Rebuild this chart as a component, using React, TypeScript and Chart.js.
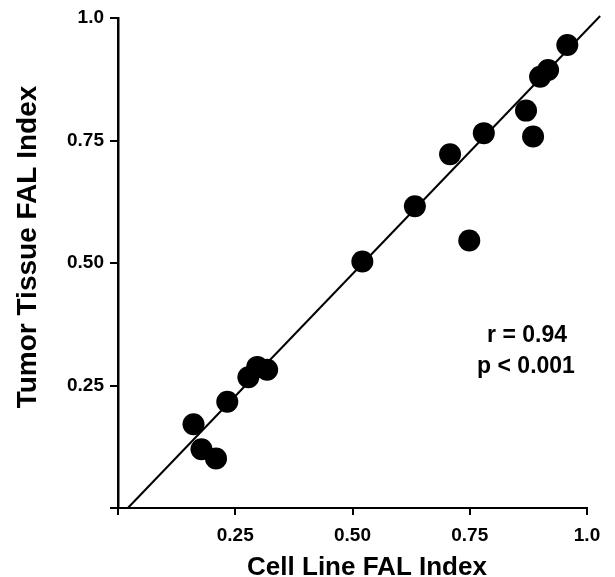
import React, { useEffect, useRef } from "react";
import { Chart, registerables } from "chart.js";

Chart.register(...registerables);

// Cell line FAL index (x) vs tumor tissue FAL index (y)
const cellLineFAL = [0.958, 0.917, 0.9, 0.87, 0.885, 0.78, 0.708, 0.749, 0.633, 0.521, 0.297, 0.318, 0.278, 0.233, 0.161, 0.178, 0.209];
const tumorTissueFAL = [0.945, 0.894, 0.88, 0.811, 0.758, 0.765, 0.722, 0.546, 0.616, 0.503, 0.288, 0.282, 0.267, 0.217, 0.171, 0.12, 0.101];

// Regression line endpoints
const fitX = [0.021, 1.028];
const fitY = [0, 1.004];

const xTickValues = [0, 0.25, 0.5, 0.75, 1.0];
const xTickLabels = ["", "0.25", "0.50", "0.75", "1.0"];
const yTickValues = [0, 0.25, 0.5, 0.75, 1.0];
const yTickLabels = ["", "0.25", "0.50", "0.75", "1.0"];

const xTitle = "Cell Line FAL Index";
const yTitle = "Tumor Tissue FAL Index";
const statLines = ["r = 0.94", "p < 0.001"];

const FONT = "'Liberation Sans', Arial, Helvetica, sans-serif";

export default function App() {
  const canvasRef = useRef<HTMLCanvasElement | null>(null);

  useEffect(() => {
    if (!canvasRef.current) return;

    const textPlugin = {
      id: "customText",
      afterDraw(chart: any) {
        const ctx = chart.ctx as CanvasRenderingContext2D;
        ctx.save();
        ctx.fillStyle = "#000";
        // x title
        ctx.font = `bold 26px ${FONT}`;
        ctx.textAlign = "center";
        ctx.textBaseline = "alphabetic";
        ctx.fillText(xTitle, 367, 575);
        // y title
        ctx.save();
        ctx.translate(36, 247);
        ctx.rotate(-Math.PI / 2);
        ctx.font = `bold 28px ${FONT}`;
        ctx.fillText(yTitle, 0, 0);
        ctx.restore();
        // stats
        ctx.font = `bold 23px ${FONT}`;
        ctx.textBaseline = "middle";
        ctx.fillText(statLines[0], 527, 336);
        ctx.fillText(statLines[1], 526, 367);
        ctx.restore();
      },
    };

    const chart = new Chart(canvasRef.current, {
      type: "scatter",
      data: {
        datasets: [
          {
            type: "line",
            data: fitX.map((x, i) => ({ x, y: fitY[i] })),
            borderColor: "#000",
            borderWidth: 2,
            pointRadius: 0,
            fill: false,
            clip: false as any,
            order: 2,
          } as any,
          {
            data: cellLineFAL.map((x, i) => ({ x, y: tumorTissueFAL[i] })),
            backgroundColor: "#000",
            borderColor: "#000",
            borderWidth: 0,
            pointRadius: 11,
            pointHoverRadius: 11,
            order: 1,
          },
        ],
      },
      options: {
        animation: false,
        responsive: true,
        maintainAspectRatio: false,
        layout: { padding: { left: 0, right: 28, top: 18, bottom: 0 } },
        plugins: {
          legend: { display: false },
          tooltip: { enabled: false },
        },
        scales: {
          x: {
            type: "linear",
            min: 0,
            max: 1,
            afterFit(scale: any) {
              scale.height = 69;
            },
            afterBuildTicks(scale: any) {
              scale.ticks = xTickValues.map((v) => ({ value: v }));
            },
            ticks: {
              callback: (_v: any, i: number) => xTickLabels[i],
              color: "#000",
              font: { family: FONT, size: 19, weight: "bold" },
              padding: 9,
              maxRotation: 0,
              autoSkip: false,
            },
            grid: {
              display: true,
              drawOnChartArea: false,
              drawTicks: true,
              tickLength: 7,
              color: "#000",
              lineWidth: 2,
            },
            border: { display: true, color: "#000", width: 2 },
          },
          y: {
            type: "linear",
            min: 0,
            max: 1,
            afterFit(scale: any) {
              scale.width = 118;
            },
            afterBuildTicks(scale: any) {
              scale.ticks = yTickValues.map((v) => ({ value: v }));
            },
            ticks: {
              callback: (_v: any, i: number) => yTickLabels[i],
              color: "#000",
              font: { family: FONT, size: 19, weight: "bold" },
              padding: 6,
              autoSkip: false,
            },
            grid: {
              display: true,
              drawOnChartArea: false,
              drawTicks: true,
              tickLength: 8,
              color: "#000",
              lineWidth: 2,
            },
            border: { display: true, color: "#000", width: 2.5 },
          },
        },
      },
      plugins: [textPlugin],
    });

    return () => chart.destroy();
  }, []);

  return (
    <div style={{ position: "fixed", left: 0, top: 0, width: 615, height: 577, background: "#fff" }}>
      <canvas ref={canvasRef} />
    </div>
  );
}
